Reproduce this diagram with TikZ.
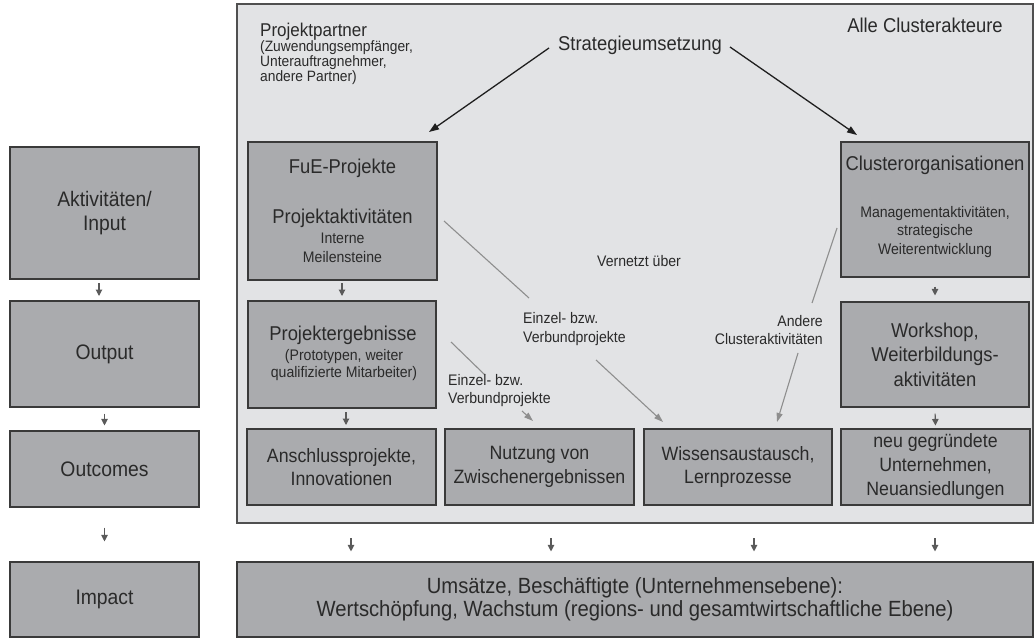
\documentclass[tikz,border=0pt]{standalone}
\usepackage{fontspec}
\setmainfont{Liberation Sans}[FakeStretch=0.92]
\usetikzlibrary{arrows.meta}
\definecolor{panelfill}{HTML}{E2E3E5}
\definecolor{panelline}{HTML}{505050}
\definecolor{boxfill}{HTML}{AAABAE}
\definecolor{boxline}{HTML}{3A3A3A}
\definecolor{txt}{HTML}{2A2A2A}
\definecolor{smallarr}{HTML}{5A5A5A}
\definecolor{netline}{HTML}{8E8E8E}
\begin{document}
\begin{tikzpicture}[x=1pt,y=-1pt,
  box/.style={draw=boxline, fill=boxfill, line width=1.1pt, inner sep=0pt, align=center, text=txt},
  lbl/.style={inner sep=0pt, text=txt, anchor=base},
  big/.style={font=\fontsize{20}{24}\selectfont},
  mid/.style={font=\fontsize{18.5}{22}\selectfont},
  small/.style={font=\fontsize{15.3}{18.5}\selectfont},
  tiny/.style={font=\fontsize{15}{15}\selectfont},
  down/.style={draw=smallarr, line width=1.1pt, -{Triangle[length=6.5pt,width=6.5pt]}},
  net/.style={draw=netline, line width=1.1pt},
  netarrow/.style={net, -{Triangle[length=9pt,width=6pt]}},
  strat/.style={draw=black!88, line width=1.3pt, -{Triangle[length=10pt,width=7pt]}}
]
\useasboundingbox (0,0) rectangle (1035,639);

% panel
\node[draw=panelline, fill=panelfill, line width=1.5pt, minimum width=796pt, minimum height=519pt, inner sep=0pt] (panel) at (635,263.5) {};

% left column
\node[box, minimum width=189pt, minimum height=132pt, font=\fontsize{21}{24}\selectfont] (aktiv) at (104.5,213) {Aktivitäten/\\Input};
\node[box, minimum width=189pt, minimum height=106pt, font=\fontsize{21}{24}\selectfont] (output) at (104.5,354) {Output};
\node[box, minimum width=189pt, minimum height=76pt, font=\fontsize{21}{24}\selectfont] (outcomes) at (104.5,469) {Outcomes};
\node[box, minimum width=189pt, minimum height=75pt, font=\fontsize{21}{24}\selectfont] (impactL) at (104.5,599.5) {Impact};

\coordinate (la1) at (99,279);
\coordinate (la2) at (99,301);
\draw[down, shorten <=4pt, shorten >=5pt] (la1) -- (la2);
\draw[down, shorten <=6pt, shorten >=5pt] (output.south) -- (outcomes.north);
\draw[down, shorten <=20pt, shorten >=20pt] (outcomes.south) -- (impactL.north);

% header texts
\node[lbl, mid, anchor=base west] (pp) at (260,37) {Projektpartner};
\node[lbl, tiny, anchor=base west] (pp1) at (260,52) {(Zuwendungsempfänger,};
\node[lbl, tiny, anchor=base west] (pp2) at (260,67) {Unterauftragnehmer,};
\node[lbl, tiny, anchor=base west] (pp3) at (260,82) {andere Partner)};
\node[lbl, big] (strat) at (640,51) {Strategieumsetzung};
\node[lbl, big] (alle) at (925,33) {Alle Clusterakteure};

% FuE box
\node[box, minimum width=189pt, minimum height=138pt] (fue) at (342.5,211) {};
\node[lbl, big] (fue1) at (342.5,174) {FuE-Projekte};
\node[lbl, big] (fue2) at (342.5,223) {Projektaktivitäten};
\node[lbl, small] (fue3) at (342.5,243) {Interne};
\node[lbl, small] (fue4) at (342.5,262) {Meilensteine};

% Projektergebnisse box
\node[box, minimum width=188pt, minimum height=107pt] (pe) at (342,354.5) {};
\node[lbl, big] (pe1) at (343,340) {Projektergebnisse};
\node[lbl, small] (pe2) at (344,360) {(Prototypen, weiter};
\node[lbl, small] (pe3) at (344,377) {qualifizierte Mitarbeiter)};

% Clusterorganisationen box
\node[box, minimum width=188pt, minimum height=135pt] (co) at (935,209.5) {};
\node[lbl, big] (co1) at (935,171) {Clusterorganisationen};
\node[lbl, small] (co2) at (935,217) {Managementaktivitäten,};
\node[lbl, small] (co3) at (935,235) {strategische};
\node[lbl, small] (co4) at (935,254) {Weiterentwicklung};

% Workshop box
\node[box, minimum width=188pt, minimum height=105pt, font=\fontsize{20}{24.5}\selectfont] (ws) at (935,354.5) {Workshop,\\Weiterbildungs-\\aktivitäten};

% bottom row
\node[box, minimum width=189pt, minimum height=76pt, font=\fontsize{19.3}{23.5}\selectfont] (an) at (341.5,467) {Anschlussprojekte,\\Innovationen};
\node[box, minimum width=189pt, minimum height=76pt, font=\fontsize{19.3}{23.5}\selectfont] (nu) at (539.5,467) {Nutzung von\\Zwischenergebnissen};
\node[box, minimum width=188pt, minimum height=76pt, font=\fontsize{19.3}{23.5}\selectfont] (wi) at (738,467) {Wissensaustausch,\\Lernprozesse};
\node[box, minimum width=189pt, minimum height=76pt, font=\fontsize{19.3}{24}\selectfont] (ne) at (935.5,467) {neu gegründete\\Unternehmen,\\Neuansiedlungen};

% impact
\node[box, minimum width=796pt, minimum height=75pt, font=\fontsize{22}{23.5}\selectfont] (impact) at (635,599.5) {Umsätze, Beschäftigte (Unternehmensebene):\\Wertschöpfung, Wachstum (regions- und gesamtwirtschaftliche Ebene)};

% small down arrows inside panel
\coordinate (d1) at (342,280);
\coordinate (d2) at (342,301);
\draw[down, shorten <=3pt, shorten >=5pt] (d1) -- (d2);
\coordinate (d3) at (346,408);
\coordinate (d4) at (346,429);
\draw[down, shorten <=4pt, shorten >=4pt] (d3) -- (d4);
\draw[down, shorten <=9pt, shorten >=6pt] (co.south) -- (ws.north);
\draw[down, shorten <=6pt, shorten >=3pt] (ws.south) -- (ne.north);

% arrows to impact
\foreach \i/\x in {1/351,2/551,3/754,4/935}{
  \coordinate (ia\i) at (\x,538);
  \draw[down, shorten >=10pt] (ia\i) -- (ia\i |- impact.north);
}

% strategy arrows
\coordinate (s1a) at (549,48);
\coordinate (s1b) at (429,132);
\coordinate (s2a) at (730,47);
\coordinate (s2b) at (857,135);
\draw[strat] (s1a) -- (s1b);
\draw[strat] (s2a) -- (s2b);

% network lines
\coordinate (n1a) at (444,221);
\coordinate (n1b) at (529,298);
\coordinate (n1c) at (596,360);
\coordinate (n1d) at (663,422);
\coordinate (n2a) at (451,342);
\coordinate (n2b) at (485,375);
\coordinate (n2c) at (522,411);
\coordinate (n2d) at (533,421);
\coordinate (n3a) at (837,228);
\coordinate (n3b) at (812,303);
\coordinate (n3c) at (798,353);
\coordinate (n3d) at (777,422);
\draw[net] (n1a) -- (n1b);
\draw[netarrow] (n1c) -- (n1d);
\draw[net] (n2a) -- (n2b);
\draw[netarrow] (n2c) -- (n2d);
\draw[net] (n3a) -- (n3b);
\draw[netarrow] (n3c) -- (n3d);

% network labels
\node[lbl, small] (vern) at (639,266) {Vernetzt über};
\node[lbl, small, anchor=base west] (e1a) at (523,323) {Einzel- bzw.};
\node[lbl, small, anchor=base west] (e1b) at (523,342) {Verbundprojekte};
\node[lbl, small, anchor=base west] (e2a) at (448,385) {Einzel- bzw.};
\node[lbl, small, anchor=base west] (e2b) at (448,403) {Verbundprojekte};
\node[lbl, small, anchor=base east] (oa) at (823,326) {Andere};
\node[lbl, small, anchor=base east] (ob) at (823,344) {Clusteraktivitäten};
\end{tikzpicture}
\end{document}
